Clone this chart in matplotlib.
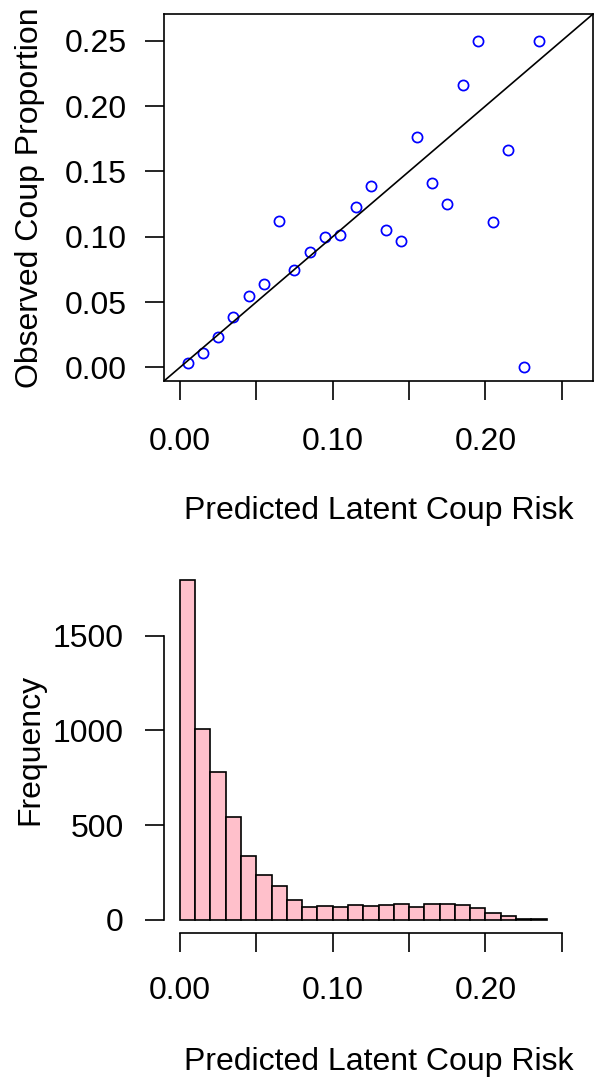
import numpy as np
import matplotlib.pyplot as plt

plt.rcParams['font.family'] = ['Liberation Sans', 'DejaVu Sans']

# calibration: binned predicted risk vs observed coup proportion
pred_risk = [0.005, 0.015, 0.025, 0.035, 0.045, 0.055, 0.065, 0.075, 0.085, 0.095,
             0.105, 0.115, 0.125, 0.135, 0.145, 0.155, 0.165, 0.175, 0.185, 0.195,
             0.205, 0.215, 0.225, 0.235]
obs_prop = [0.0036, 0.0112, 0.0231, 0.0384, 0.0544, 0.0636, 0.1122, 0.0748, 0.0880, 0.1000,
            0.1013, 0.1231, 0.1389, 0.1053, 0.0964, 0.1766, 0.1410, 0.1249, 0.2160, 0.2500,
            0.1112, 0.1667, 0.0000, 0.2500]

# histogram of predicted latent risk (bins of width 0.01)
bin_edges = np.round(np.arange(0, 0.2401, 0.01), 2)
bin_counts = [1795, 1008, 780, 544, 334, 238, 180, 106, 67, 70,
              67, 76, 74, 77, 84, 67, 81, 81, 76, 63,
              35, 19, 5, 4]

x_ticks = [0.00, 0.05, 0.10, 0.15, 0.20, 0.25]
x_labels = ['0.00', '', '0.10', '', '0.20', '']
y_ticks_top = [0.00, 0.05, 0.10, 0.15, 0.20, 0.25]
y_ticks_hist = [0, 500, 1000, 1500]

W, H = 594, 1087
fig = plt.figure(figsize=(W / 100, H / 100), dpi=100)

FS = 23
LW = 1.2
lim = (-0.0104, 0.2704)

# scatter panel
ax1 = fig.add_axes([164 / W, 1 - 381 / H, 429 / W, 367 / H])
ax1.plot(pred_risk, obs_prop, 'o', mfc='none', mec='blue', ms=7.3, mew=1.25)
ax1.axline((0, 0), slope=1, color='black', lw=LW)
ax1.set_xlim(lim)
ax1.set_ylim(lim)
ax1.set_xticks(x_ticks, x_labels)
ax1.set_yticks(y_ticks_top, [f'{v:.2f}' for v in y_ticks_top])
for s in ax1.spines.values():
    s.set_linewidth(LW)
ax1.tick_params(axis='x', length=14, width=LW, labelsize=FS, pad=19)
ax1.tick_params(axis='y', length=14, width=LW, labelsize=FS, pad=13)

fig.text(30 / W, 1 - 197.5 / H, 'Observed Coup Proportion', rotation=90,
         ha='center', va='center', fontsize=FS)
fig.text(378.5 / W, 1 - 519.5 / H, 'Predicted Latent Coup Risk',
         ha='center', va='baseline', fontsize=FS)

# histogram panel
ax2 = fig.add_axes([164 / W, 1 - 933.3 / H, 429 / W, 367 / H])
ax2.bar(bin_edges[:-1], bin_counts, width=0.01, align='edge',
        color='pink', edgecolor='black', linewidth=LW)
ax2.set_xlim(lim)
top = max(bin_counts)
ax2.set_ylim(-0.04 * top, 1.04 * top)
ax2.set_xticks(x_ticks, x_labels)
ax2.set_yticks(y_ticks_hist, [str(v) for v in y_ticks_hist])
for side in ['top', 'right']:
    ax2.spines[side].set_visible(False)
ax2.spines['left'].set_bounds(0, 1500)
ax2.spines['bottom'].set_bounds(0, 0.25)
ax2.spines['left'].set_linewidth(LW)
ax2.spines['bottom'].set_linewidth(LW)
ax2.tick_params(axis='x', length=14, width=LW, labelsize=FS, pad=17)
ax2.tick_params(axis='y', length=14, width=LW, labelsize=FS, pad=15)

fig.text(30 / W, 1 - 749.7 / H, 'Frequency', rotation=90,
         ha='center', va='center', fontsize=FS)
fig.text(378.5 / W, 1 - 1070 / H, 'Predicted Latent Coup Risk',
         ha='center', va='baseline', fontsize=FS)

fig.savefig('out.png', dpi=100)
